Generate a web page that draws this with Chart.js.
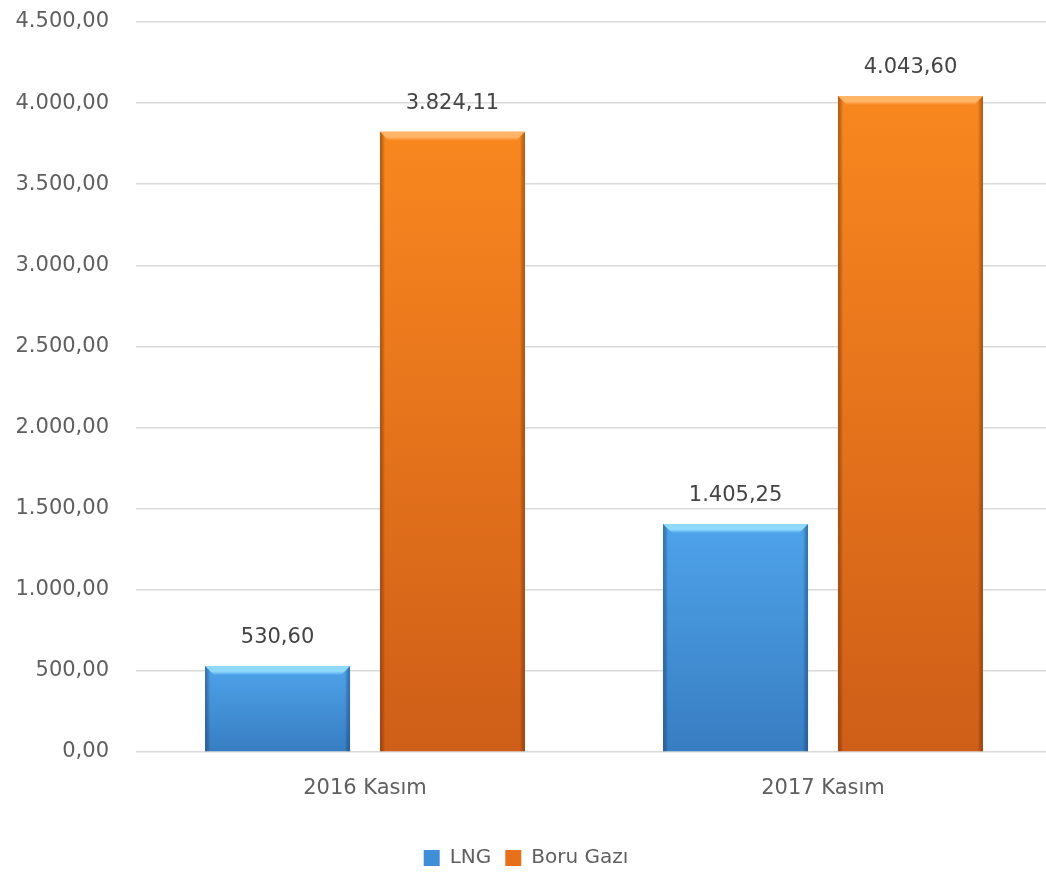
<!DOCTYPE html>
<html>
<head>
<meta charset="utf-8">
<script src="https://cdn.jsdelivr.net/npm/chart.js@4.4.1/dist/chart.umd.min.js"></script>
<style>
  html, body { margin: 0; padding: 0; background: #ffffff; overflow: hidden; }
  #wrap { position: relative; width: 1086px; height: 878px; }
</style>
</head>
<body>
<div id="wrap"><canvas id="c"></canvas></div>
<script>
const categories = ['2016 Kasım', '2017 Kasım'];
const seriesNames = ['LNG', 'Boru Gazı'];
const lngValues = [530.60, 1405.25];
const boruValues = [3824.11, 4043.60];
const yTickMin = 0;
const yTickMax = 4500;
const yTickStep = 500;

function fmtTR(v) {
  const neg = v < 0;
  const s = Math.abs(v).toFixed(2);
  let [ip, dp] = s.split('.');
  ip = ip.replace(/\B(?=(\d{3})+(?!\d))/g, '.');
  return (neg ? '-' : '') + ip + ',' + dp;
}

const FONT = '"DejaVu Sans", sans-serif';
const TEXT = '#5f5f5f';

const palettes = [
  { top: '#4ea3ea', bottom: '#387dc2', bevel: '#8fd9fc', edge: 'rgba(30,70,120,0.5)', legend: '#3f8fd8' },
  { top: '#f9871f', bottom: '#cf5e18', bevel: '#ffb466', edge: 'rgba(120,50,10,0.5)', legend: '#e8701b' }
];

function barGradient(ctx, di) {
  const chart = ctx.chart;
  const area = chart.chartArea;
  if (!area) return palettes[di].top;
  const y = chart.scales.y;
  const v = ctx.raw;
  if (typeof v !== 'number') return palettes[di].top;
  const top = y.getPixelForValue(v);
  const base = y.getPixelForValue(0);
  const g = chart.ctx.createLinearGradient(0, top, 0, base);
  g.addColorStop(0, palettes[di].top);
  g.addColorStop(1, palettes[di].bottom);
  return g;
}

const bevelPlugin = {
  id: 'bevel',
  afterDatasetsDraw(chart) {
    const c = chart.ctx;
    chart.data.datasets.forEach((ds, di) => {
      const meta = chart.getDatasetMeta(di);
      meta.data.forEach((bar) => {
        const p = bar.getProps(['x', 'y', 'base', 'width'], true);
        const l = p.x - p.width / 2, r = p.x + p.width / 2;
        const t = p.y, b = p.base;
        const bv = 9;
        c.save();
        const g = c.createLinearGradient(0, t, 0, t + bv);
        g.addColorStop(0, palettes[di].bevel);
        g.addColorStop(0.6, palettes[di].bevel);
        g.addColorStop(1, palettes[di].top);
        c.fillStyle = g;
        c.beginPath();
        c.moveTo(l, t); c.lineTo(r, t); c.lineTo(r - bv, t + bv); c.lineTo(l + bv, t + bv); c.closePath();
        c.fill();
        const ew = 5;
        const gl = c.createLinearGradient(l, 0, l + ew, 0);
        gl.addColorStop(0, palettes[di].edge);
        gl.addColorStop(1, 'rgba(0,0,0,0)');
        c.fillStyle = gl;
        c.beginPath();
        c.moveTo(l, t); c.lineTo(l + ew, t + ew); c.lineTo(l + ew, b); c.lineTo(l, b); c.closePath();
        c.fill();
        const gr = c.createLinearGradient(r - ew, 0, r, 0);
        gr.addColorStop(0, 'rgba(0,0,0,0)');
        gr.addColorStop(1, palettes[di].edge);
        c.fillStyle = gr;
        c.beginPath();
        c.moveTo(r, t); c.lineTo(r - ew, t + ew); c.lineTo(r - ew, b); c.lineTo(r, b); c.closePath();
        c.fill();
        c.restore();
      });
    });
  }
};

const labelPlugin = {
  id: 'valueLabels',
  afterDatasetsDraw(chart) {
    const c = chart.ctx;
    c.save();
    c.font = '21px ' + FONT;
    c.fillStyle = '#444444';
    c.textAlign = 'center';
    c.textBaseline = 'middle';
    chart.data.datasets.forEach((ds, di) => {
      const meta = chart.getDatasetMeta(di);
      meta.data.forEach((bar, i) => {
        c.fillText(fmtTR(ds.data[i]), bar.x, bar.y - 28);
      });
    });
    c.restore();
  }
};

new Chart(document.getElementById('c'), {
  type: 'bar',
  data: {
    labels: categories,
    datasets: [
      { label: seriesNames[0], data: lngValues, backgroundColor: (ctx) => barGradient(ctx, 0), borderWidth: 0 },
      { label: seriesNames[1], data: boruValues, backgroundColor: (ctx) => barGradient(ctx, 1), borderWidth: 0 }
    ]
  },
  options: {
    responsive: true,
    maintainAspectRatio: false,
    animation: false,
    categoryPercentage: 0.764,
    barPercentage: 0.829,
    layout: { padding: { top: 22, right: 34, left: 0, bottom: 0 } },
    plugins: {
      tooltip: { enabled: false },
      legend: {
        position: 'bottom',
        labels: {
          font: { family: FONT, size: 20 },
          color: TEXT,
          boxWidth: 16,
          boxHeight: 16,
          padding: 14,
          generateLabels(chart) {
            return chart.data.datasets.map((ds, i) => ({
              text: ds.label,
              fillStyle: palettes[i].legend,
              strokeStyle: palettes[i].legend,
              lineWidth: 0,
              hidden: false,
              datasetIndex: i,
              fontColor: TEXT
            }));
          }
        }
      }
    },
    scales: {
      x: {
        grid: { display: false, drawTicks: false },
        border: { display: false },
        ticks: { font: { family: FONT, size: 21 }, color: TEXT, padding: 24 },
        afterFit(scale) { scale.height = 82; scale.paddingLeft = 0; scale.paddingRight = 0; }
      },
      y: {
        min: yTickMin,
        max: yTickMax,
        grid: { color: '#d9d9d9', lineWidth: 1.5, drawTicks: false },
        border: { display: false },
        ticks: {
          stepSize: yTickStep,
          font: { family: FONT, size: 21 },
          color: TEXT,
          padding: 27,
          callback: (v) => fmtTR(v)
        },
        afterFit(scale) { scale.width = 136; scale.paddingTop = 0; scale.paddingBottom = 0; }
      }
    }
  },
  plugins: [bevelPlugin, labelPlugin]
});
</script>
</body>
</html>
